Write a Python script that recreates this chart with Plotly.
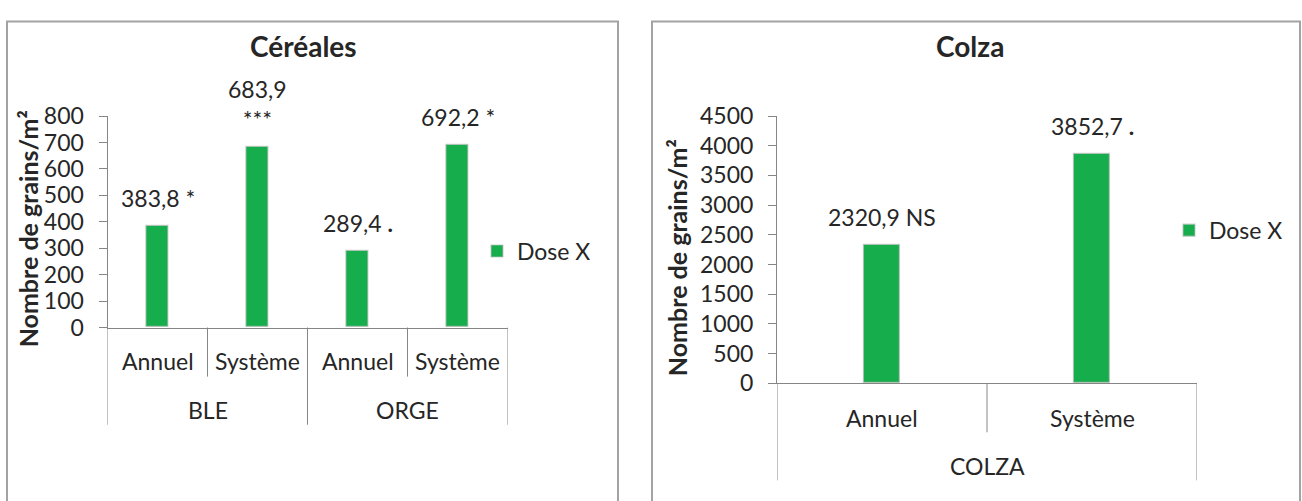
import plotly.graph_objects as go

# ---------------- data ----------------
cer_title = "Céréales"
cer_groups = ["BLE", "BLE", "ORGE", "ORGE"]
cer_subs = ["Annuel", "Système", "Annuel", "Système"]
cer_values = [383.8, 683.9, 289.4, 692.2]
cer_labels = ["383,8 *", "683,9<br>***", "289,4 <b>.</b>", "692,2 *"]
cer_yticks = [0, 100, 200, 300, 400, 500, 600, 700, 800]

col_title = "Colza"
col_groups = ["COLZA", "COLZA"]
col_subs = ["Annuel", "Système"]
col_values = [2320.9, 3852.7]
col_labels = ["2320,9 NS", "3852,7 <b>.</b>"]
col_yticks = [0, 500, 1000, 1500, 2000, 2500, 3000, 3500, 4000, 4500]

series_name = "Dose X"
y_title = "Nombre de grains/m²"

# ---------------- style / layout ----------------
W, H = 1302, 501
FONT = "Lato"
TXT = "#262626"
AX = "#868686"
GREEN = "#16AD4C"
BORDER = "#A3A3A3"
FS = 23


def px_x(p):
    return p / W


def px_y(p):
    return 1 - p / H


panels = [
    dict(title=cer_title, groups=cer_groups, subs=cer_subs, values=cer_values,
         labels=cer_labels, yticks=cer_yticks, xa="x", ya="y", leg="legend",
         x0=107.5, x1=507.5, ytop=107, ybot=331, bw=0.22,
         sub_y=367, sub_div=383, grp_y=418, grp_div=434,
         title_x=303, ytitle_x=28, leg_x=477, leg_y=250,
         box=(7, 618)),
    dict(title=col_title, groups=col_groups, subs=col_subs, values=col_values,
         labels=col_labels, yticks=col_yticks, xa="x2", ya="y2", leg="legend2",
         x0=777, x1=1197, ytop=107, ybot=390, bw=0.176,
         sub_y=427, sub_div=442, grp_y=478, grp_div=493,
         title_x=970, ytitle_x=677, leg_x=1169, leg_y=228,
         box=(652, 1300)),
]

fig = go.Figure()
annotations = []
shapes = []
layout_axes = {}

for i, p in enumerate(panels):
    cats = [f"{g} {s}" for g, s in zip(p["groups"], p["subs"])]
    n = len(cats)
    fig.add_trace(go.Bar(
        x=cats, y=p["values"], name=series_name, width=p["bw"],
        marker=dict(color=GREEN, line=dict(color="rgba(190,190,190,0.7)", width=1.2)),
        xaxis=p["xa"], yaxis=p["ya"], legend=p["leg"], showlegend=True,
        hoverinfo="skip",
    ))
    suffix = "" if i == 0 else "2"
    layout_axes["xaxis" + suffix] = dict(
        domain=[px_x(p["x0"]), px_x(p["x1"])], anchor="y" + suffix,
        type="category", range=[-0.5, n - 0.5], showticklabels=False,
        showline=True, linecolor=AX, linewidth=1, ticks="", showgrid=False,
        zeroline=False, fixedrange=True,
    )
    layout_axes["yaxis" + suffix] = dict(
        domain=[px_y(p["ybot"]), px_y(p["ytop"])], anchor="x" + suffix,
        range=[0, max(p["yticks"])], tickmode="array", tickvals=p["yticks"],
        ticktext=[str(t) for t in p["yticks"]],
        showline=True, linecolor=AX, linewidth=1, ticks="outside", ticklen=8,
        tickcolor=AX, tickwidth=1, showgrid=False, zeroline=False,
        tickfont=dict(family=FONT, size=FS, color=TXT), ticklabelstandoff=10,
        fixedrange=True,
    )
    xref = p["xa"]
    # data labels
    for c, v, t in zip(cats, p["values"], p["labels"]):
        annotations.append(dict(x=c, y=v, xref=xref, yref=p["ya"], text=t,
                                showarrow=False, yanchor="bottom", yshift=12,
                                font=dict(family=FONT, size=FS, color=TXT)))
    # sub-category labels and dividers
    for k, s in enumerate(p["subs"]):
        annotations.append(dict(x=k, y=px_y(p["sub_y"]), xref=xref, yref="paper",
                                text=s, showarrow=False, yanchor="middle",
                                font=dict(family=FONT, size=FS, color=TXT)))
    for k in range(n + 1):
        is_grp = (k == 0 or k == n or p["groups"][k - 1] != p["groups"][k])
        shapes.append(dict(type="line", xref=xref, yref="paper",
                           x0=k - 0.5, x1=k - 0.5, y0=px_y(p["ybot"]),
                           y1=px_y(p["grp_div"] if is_grp else p["sub_div"]),
                           line=dict(color=AX, width=1)))
    # group labels
    start = 0
    for k in range(1, n + 1):
        if k == n or p["groups"][k] != p["groups"][start]:
            annotations.append(dict(x=(start + k - 1) / 2, y=px_y(p["grp_y"]),
                                    xref=xref, yref="paper", text=p["groups"][start],
                                    showarrow=False, yanchor="middle",
                                    font=dict(family=FONT, size=FS, color=TXT)))
            start = k
    # title
    annotations.append(dict(x=px_x(p["title_x"]), y=px_y(33), xref="paper", yref="paper",
                            text=f"<b>{p['title']}</b>", showarrow=False,
                            xanchor="center", yanchor="middle",
                            font=dict(family=FONT, size=28, color=TXT)))
    # y title
    annotations.append(dict(x=px_x(p["ytitle_x"]), y=px_y((p["ytop"] + p["ybot"]) / 2 + 8),
                            xref="paper", yref="paper", text=f"<b>{y_title}</b>",
                            textangle=-90, showarrow=False, xanchor="center",
                            yanchor="middle",
                            font=dict(family=FONT, size=25, color=TXT)))
    # panel border
    shapes.append(dict(type="rect", xref="paper", yref="paper",
                       x0=px_x(p["box"][0]), x1=px_x(p["box"][1]),
                       y0=px_y(H + 20), y1=px_y(7),
                       line=dict(color=BORDER, width=2), fillcolor="rgba(0,0,0,0)",
                       layer="below"))
    layout_axes[p["leg"]] = dict(x=px_x(p["leg_x"]), y=px_y(p["leg_y"]),
                                 xanchor="left", yanchor="middle",
                                 bgcolor="rgba(0,0,0,0)",
                                 font=dict(family=FONT, size=FS, color=TXT))

fig.update_layout(
    width=W, height=H, margin=dict(l=0, r=0, t=0, b=0),
    paper_bgcolor="white", plot_bgcolor="white",
    font=dict(family=FONT, color=TXT),
    annotations=annotations, shapes=shapes, bargap=0,
    **layout_axes,
)

fig.write_html("out.html", config={"displayModeBar": False},
               post_script="document.body.style.margin='0';document.body.style.overflow='hidden';")
